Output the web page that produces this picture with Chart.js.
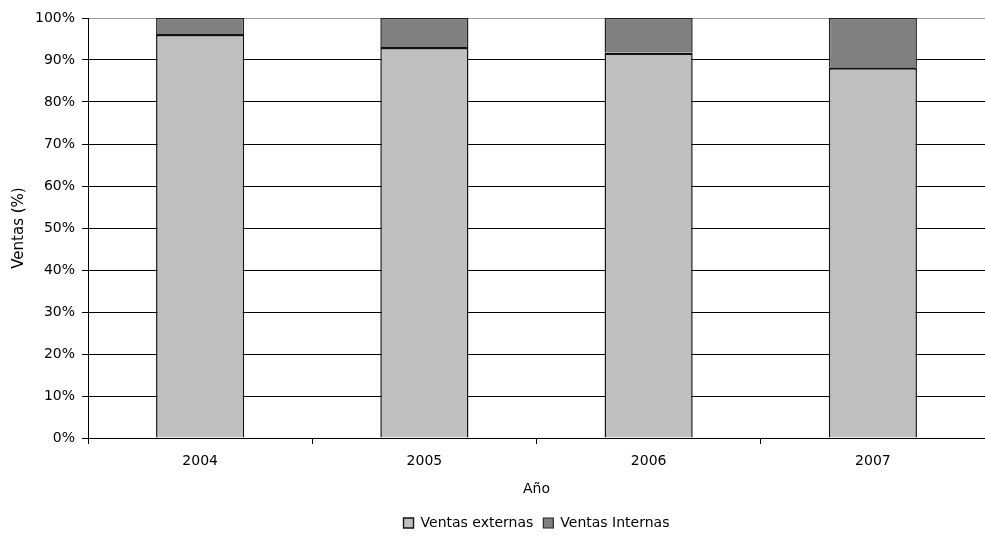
<!DOCTYPE html>
<html>
<head>
<meta charset="utf-8">
<script src="https://cdn.jsdelivr.net/npm/chart.js@4.4.0/dist/chart.umd.min.js"></script>
<style>
  html, body { margin: 0; padding: 0; background: #fff; }
  #wrap { width: 985px; height: 540px; }
</style>
</head>
<body>
<div id="wrap"><canvas id="ventas-chart"></canvas></div>
<script>
let years = ['2004', '2005', '2006', '2007'];
let ventasExternas = [96.2, 93.1, 91.7, 88.3];
let ventasInternas = [3.8, 6.9, 8.3, 11.7];
let yTicks = [0, 10, 20, 30, 40, 50, 60, 70, 80, 90, 100];

Chart.defaults.font.family = '"DejaVu Sans", sans-serif';
Chart.defaults.font.size = 14;
Chart.defaults.color = '#000';

window.onload = function () {
    let ctx = document.getElementById('ventas-chart').getContext('2d');
    new Chart(ctx, {
        type: 'bar',
        data: {
            labels: years,
            datasets: [{
                label: 'Ventas externas',
                data: ventasExternas,
                backgroundColor: '#c0c0c0',
                borderColor: '#111',
                borderWidth: { top: 2.5, right: 1.5, bottom: 0, left: 1.5 },
                borderSkipped: false
            }, {
                label: 'Ventas Internas',
                data: ventasInternas,
                backgroundColor: '#808080',
                borderColor: '#222',
                borderWidth: { top: 1.5, right: 1.5, bottom: 0, left: 1.5 },
                borderSkipped: false
            }]
        },
        options: {
            responsive: true,
            maintainAspectRatio: false,
            animation: false,
            layout: { padding: { top: 18, right: 0, left: 0, bottom: 0 } },
            datasets: { bar: { categoryPercentage: 1, barPercentage: 0.393 } },
            plugins: {
                legend: {
                    position: 'bottom',
                    fullSize: false,
                    labels: {
                        boxWidth: 10,
                        boxHeight: 10,
                        padding: 10,
                        color: '#000',
                        font: { size: 14 }
                    }
                },
                tooltip: { enabled: false }
            },
            scales: {
                x: {
                    stacked: true,
                    grid: {
                        offset: true,
                        drawOnChartArea: false,
                        drawTicks: true,
                        tickLength: 6,
                        color: '#000'
                    },
                    border: { color: '#000', width: 1 },
                    ticks: { padding: 9, color: '#000' },
                    title: { display: true, text: 'Año', color: '#000', font: { size: 14 }, padding: { top: 4, bottom: 8 } },
                    afterFit: function (scale) { scale.height = 68; }
                },
                y: {
                    stacked: true,
                    min: 0,
                    max: 100,
                    afterBuildTicks: function (scale) {
                        scale.ticks = yTicks.map(v => ({ value: v }));
                    },
                    grid: {
                        color: c => (c.tick && c.tick.value === 100) ? '#a0a0a0' : '#000',
                        tickColor: '#000',
                        tickLength: 6
                    },
                    border: { color: '#000', width: 1 },
                    ticks: { padding: 7, color: '#000', callback: v => v + '%' },
                    title: { display: true, text: 'Ventas (%)', color: '#000', font: { size: 15 }, padding: { top: 10, bottom: 0 } },
                    afterFit: function (scale) { scale.width = 88; }
                }
            }
        }
    });
};
</script>
</body>
</html>
